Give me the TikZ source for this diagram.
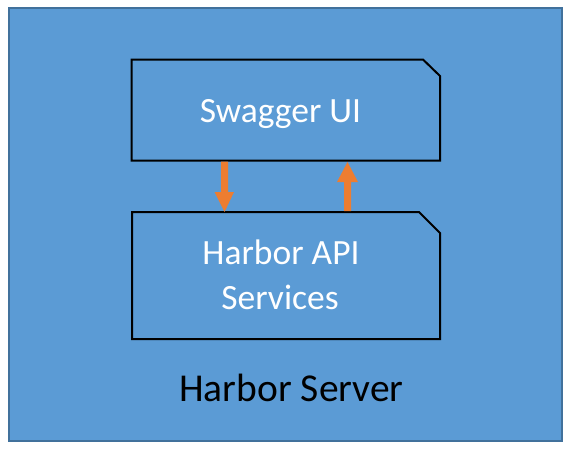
\documentclass[tikz,border=0pt]{standalone}
\usepackage{fontspec}
\setmainfont{Carlito}
\definecolor{bgblue}{HTML}{5B9BD5}
\definecolor{edgeblue}{HTML}{41719C}
\definecolor{arroworange}{HTML}{ED7D31}
\tikzset{
  boxline/.style={draw=black, line width=2pt, line join=miter},
  boxtext/.style={text=white, font=\fontsize{35.5}{45}\selectfont, align=center, inner sep=0pt},
  blockarrow/.style={fill=arroworange, draw=none},
}
\begin{document}
\begin{tikzpicture}[x=1pt,y=-1pt]
\useasboundingbox (0,0) rectangle (573,450);
% outer server box
\draw[fill=bgblue, draw=edgeblue, line width=2pt] (9,8) rectangle (562,441);
% Swagger UI box
\draw[boxline] (131.5,59.5) -- (423,59.5) -- (440,76) -- (440,160.5) -- (131.5,160.5) -- cycle;
\node[boxtext, anchor=base] (swagger) at (280.5,122) {Swagger UI};
% Harbor API Services box
\draw[boxline] (132,212) -- (419,212) -- (440,233) -- (440,339) -- (132,339) -- cycle;
\node[boxtext, anchor=base] (api1) at (281,264) {Harbor API};
\node[boxtext, anchor=base] (api2) at (280,309) {Services};
% down arrow
\fill[blockarrow] (221,161.5) -- (228,161.5) -- (228,192) -- (234,192) -- (224.5,212) -- (214.5,192) -- (221,192) -- cycle;
% up arrow
\fill[blockarrow] (344,211) -- (351,211) -- (351,182) -- (358,182) -- (347.5,162) -- (337,182) -- (344,182) -- cycle;
% label
\node[anchor=base, inner sep=0pt, font=\fontsize{39.5}{46}\selectfont] (server) at (291.5,401) {Harbor Server};
\end{tikzpicture}
\end{document}
